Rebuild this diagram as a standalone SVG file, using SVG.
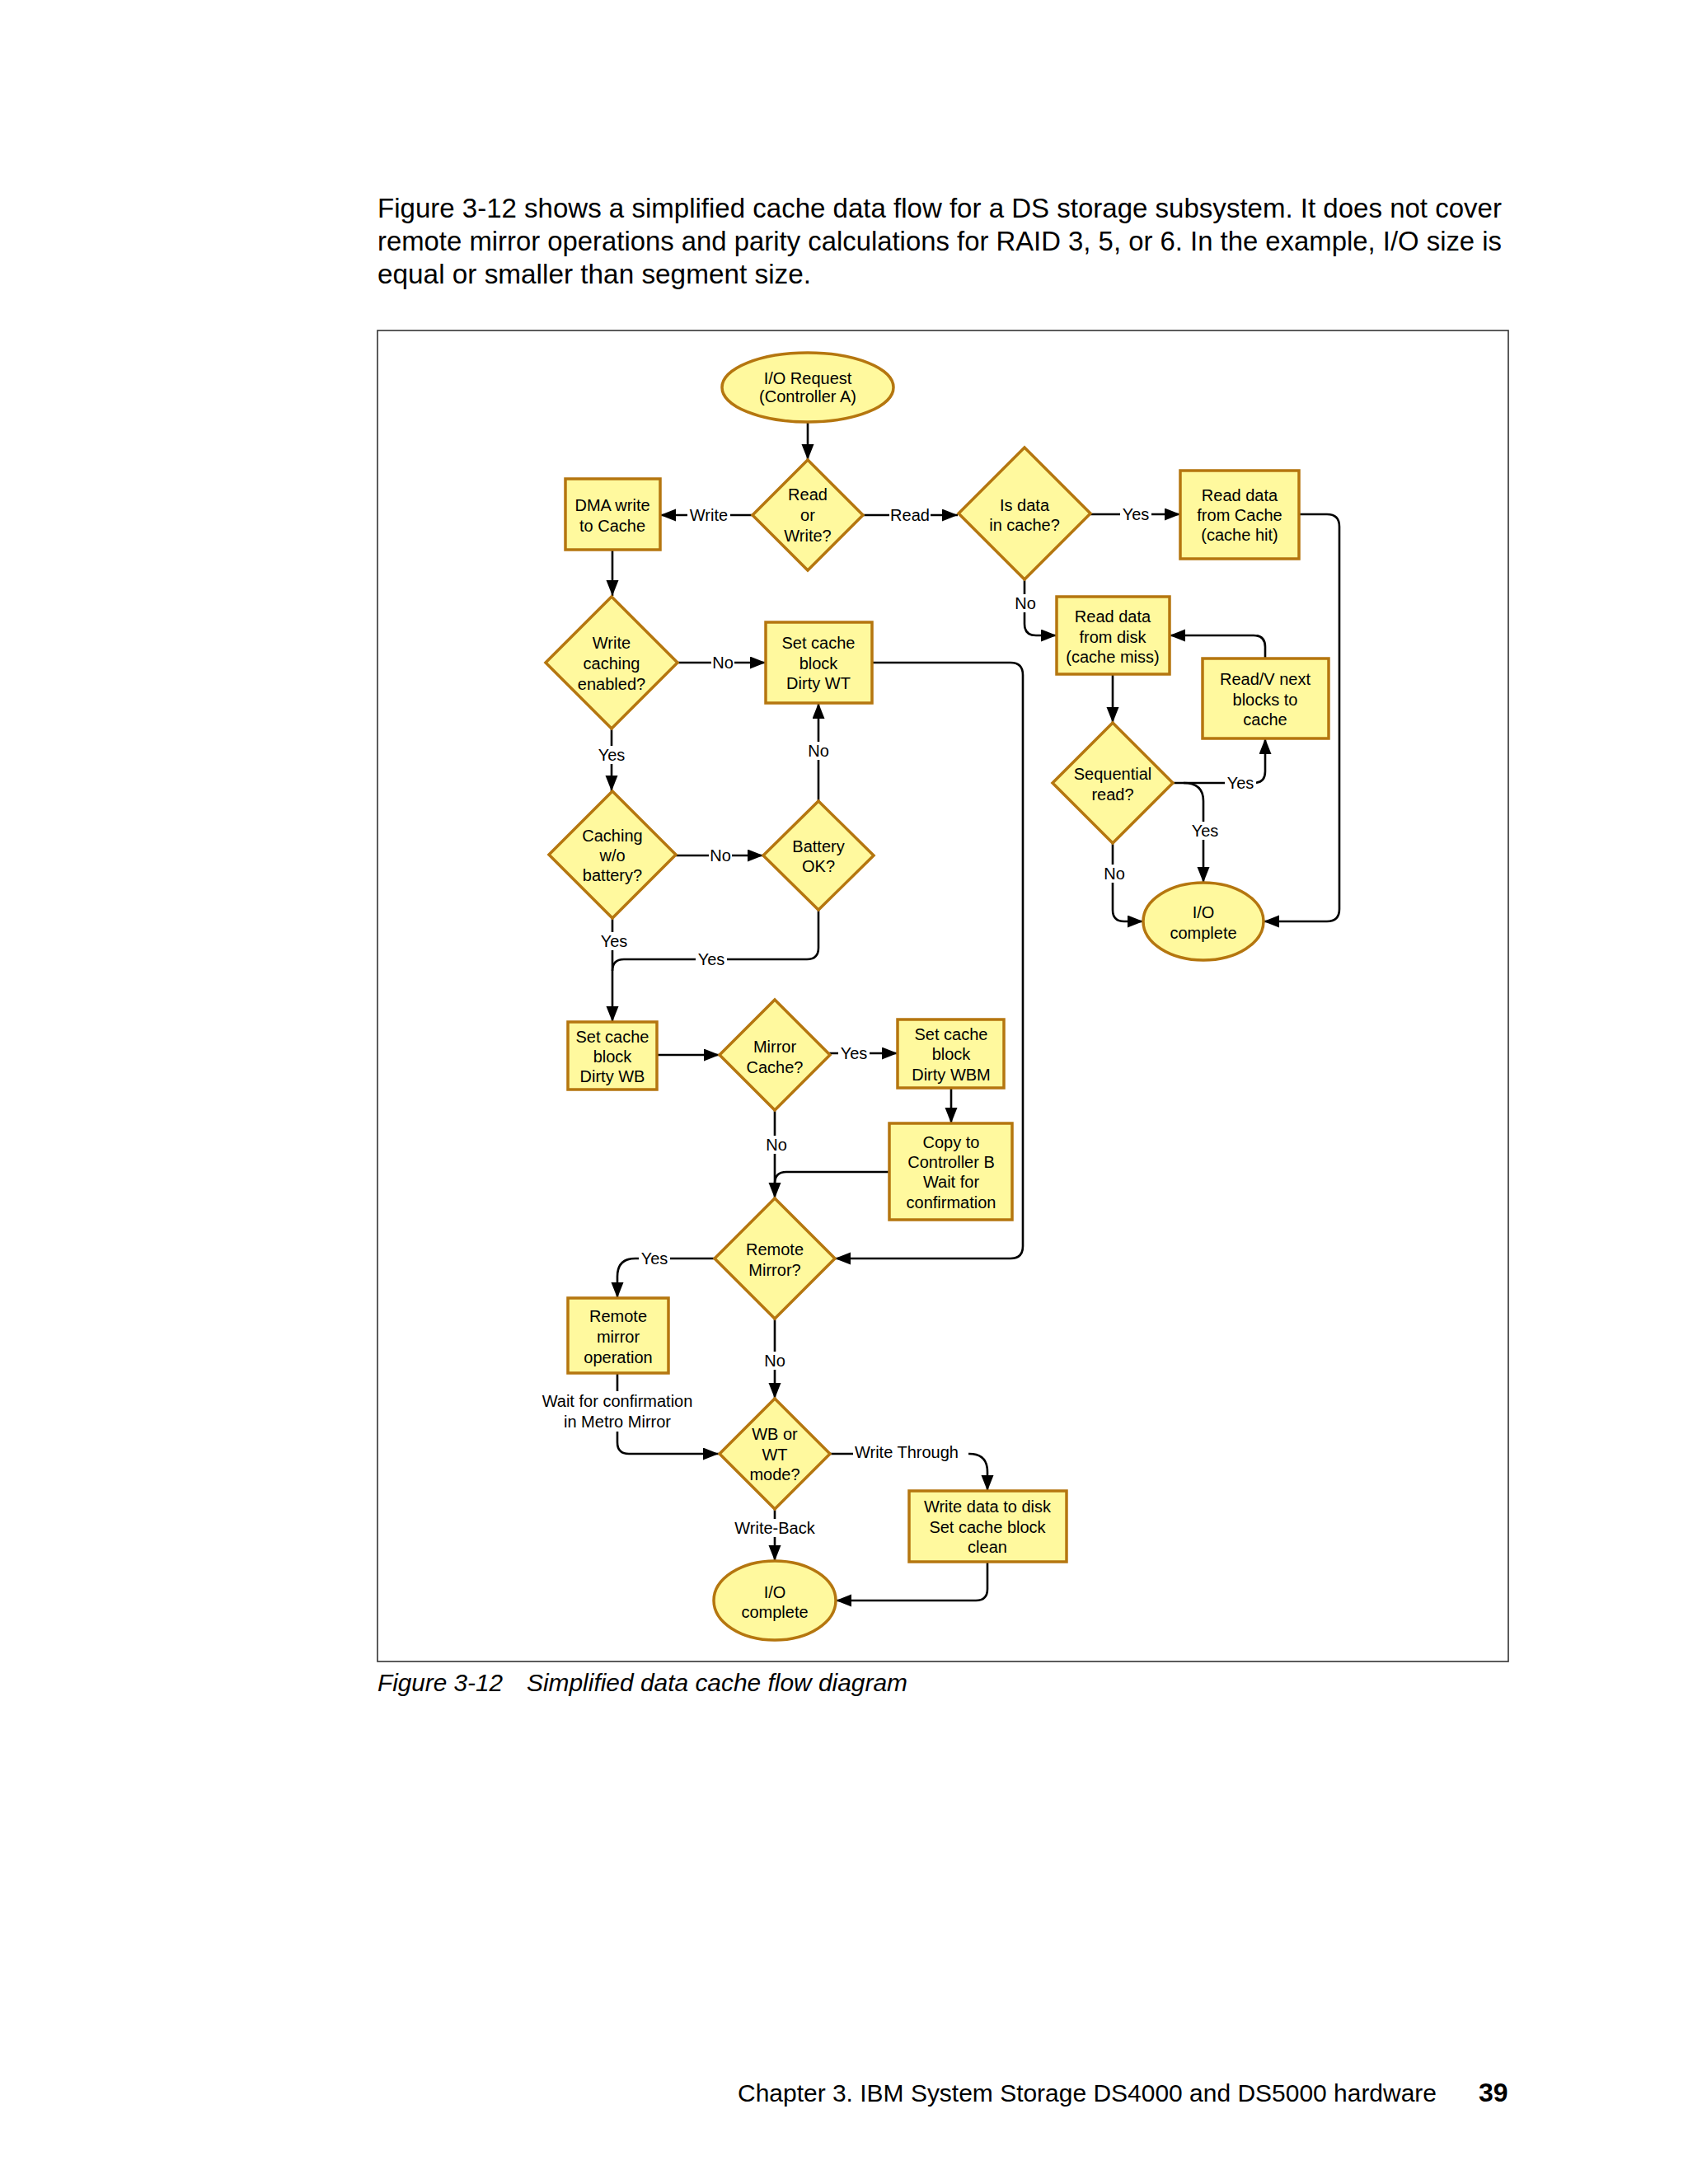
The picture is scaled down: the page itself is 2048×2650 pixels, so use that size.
<svg xmlns="http://www.w3.org/2000/svg" width="2048" height="2650" viewBox="0 0 2048 2650">
<defs>
<marker id="ah" markerUnits="userSpaceOnUse" markerWidth="20" markerHeight="16" refX="19" refY="7.5" orient="auto">
<path d="M0,0 L19,7.5 L0,15 z" fill="#000"/>
</marker>
<style>
.nd{fill:#FFF99E;stroke:#B5760F;stroke-width:3.5;stroke-linejoin:miter}
.nt{font-family:"Liberation Sans",Arial,sans-serif;font-size:20px;fill:#000;text-anchor:middle}
.cn{fill:none;stroke:#000;stroke-width:2.6}
.ar{marker-end:url(#ah)}
.bg{fill:#fff;stroke:none}
.lb{font-family:"Liberation Sans",Arial,sans-serif;font-size:20px;fill:#000;text-anchor:middle}
.pt{font-family:"Liberation Sans",Arial,sans-serif;font-size:33px;fill:#000}
</style>
</defs>
<rect width="2048" height="2650" fill="#fff"/>

<g id="page-text">
<text class="pt" x="458" y="264" textLength="1364" lengthAdjust="spacingAndGlyphs">Figure 3-12 shows a simplified cache data flow for a DS storage subsystem. It does not cover</text>
<text class="pt" x="458" y="304" textLength="1364" lengthAdjust="spacingAndGlyphs">remote mirror operations and parity calculations for RAID 3, 5, or 6. In the example, I/O size is</text>
<text class="pt" x="458" y="344" textLength="526" lengthAdjust="spacingAndGlyphs">equal or smaller than segment size.</text>
<text x="458" y="2052" font-family="Liberation Sans, Arial, sans-serif" font-style="italic" font-size="30" textLength="152" lengthAdjust="spacingAndGlyphs">Figure 3-12</text>
<text x="639" y="2052" font-family="Liberation Sans, Arial, sans-serif" font-style="italic" font-size="30" textLength="462" lengthAdjust="spacingAndGlyphs">Simplified data cache flow diagram</text>
<text x="895" y="2550" font-family="Liberation Sans, Arial, sans-serif" font-size="30" textLength="848" lengthAdjust="spacingAndGlyphs">Chapter 3. IBM System Storage DS4000 and DS5000 hardware</text>
<text x="1794" y="2550" font-family="Liberation Sans, Arial, sans-serif" font-size="32" font-weight="bold">39</text>
</g>

<rect id="frame" x="458" y="401" width="1372" height="1615" fill="none" stroke="#333" stroke-width="1.6"/>

<g id="connectors">
<path class="cn ar" d="M980,513 L980,558"/>
<path class="cn ar" d="M913,625 L801,625"/>
<path class="cn ar" d="M1047,625 L1162,625"/>
<path class="cn ar" d="M1323,624 L1432,624"/>
<path class="cn ar" d="M1243,703 L1243,757 Q1243,771 1257,771 L1282,771"/>
<path class="cn ar" d="M1576,624 L1610,624 Q1625,624 1625,639 L1625,1103 Q1625,1118 1610,1118 L1533,1118"/>
<path class="cn ar" d="M743,667 L743,723"/>
<path class="cn ar" d="M822,804 L929,804"/>
<path class="cn ar" d="M1058,804 L1226,804 Q1241,804 1241,819 L1241,1512 Q1241,1527 1226,1527 L1013,1527"/>
<path class="cn ar" d="M742,884 L742,960"/>
<path class="cn ar" d="M820,1038 L926,1038"/>
<path class="cn ar" d="M993,972 L993,853"/>
<path class="cn ar" d="M743,1114 L743,1240"/>
<path class="cn" d="M993,1104 L993,1150 Q993,1164 979,1164 L757,1164 Q743,1164 743,1178"/>
<path class="cn ar" d="M797,1280 L873,1280"/>
<path class="cn ar" d="M1006,1278 L1089,1278"/>
<path class="cn ar" d="M1154,1320 L1154,1363"/>
<path class="cn" d="M1079,1422 L954,1422 Q940,1422 940,1436"/>
<path class="cn ar" d="M940,1347 L940,1454"/>
<path class="cn ar" d="M868,1527 L771,1527 Q749,1527 749,1549 L749,1575"/>
<path class="cn ar" d="M940,1600 L940,1697"/>
<path class="cn ar" d="M749,1666 L749,1750 Q749,1764 763,1764 L872,1764"/>
<path class="cn ar" d="M1006,1764 L1176,1764 Q1198,1764 1198,1786 L1198,1809"/>
<path class="cn ar" d="M940,1831 L940,1894"/>
<path class="cn ar" d="M1198,1895 L1198,1928 Q1198,1942 1184,1942 L1014,1942"/>
<path class="cn ar" d="M1350,818 L1350,877"/>
<path class="cn ar" d="M1423,950 L1521,950 Q1535,950 1535,936 L1535,896"/>
<path class="cn ar" d="M1436,950 Q1460,950 1460,972 L1460,1071"/>
<path class="cn ar" d="M1535,799 L1535,785 Q1535,771 1521,771 L1419,771"/>
<path class="cn ar" d="M1350,1023 L1350,1104 Q1350,1118 1364,1118 L1387,1118"/>
<rect class="bg" x="834" y="614" width="52" height="22"/>
<rect class="bg" x="1079" y="614" width="50" height="22"/>
<rect class="bg" x="1359" y="613" width="38" height="22"/>
<rect class="bg" x="1230" y="721" width="28" height="22"/>
<rect class="bg" x="863" y="793" width="28" height="22"/>
<rect class="bg" x="723" y="905" width="38" height="22"/>
<rect class="bg" x="860" y="1027" width="28" height="22"/>
<rect class="bg" x="979" y="900" width="28" height="22"/>
<rect class="bg" x="726" y="1131" width="38" height="22"/>
<rect class="bg" x="844" y="1153" width="38" height="22"/>
<rect class="bg" x="1017" y="1267" width="38" height="22"/>
<rect class="bg" x="928" y="1378" width="28" height="22"/>
<rect class="bg" x="775" y="1516" width="38" height="22"/>
<rect class="bg" x="926" y="1640" width="28" height="22"/>
<rect class="bg" x="654" y="1688" width="190" height="49"/>
<rect class="bg" x="1035" y="1751" width="140" height="22"/>
<rect class="bg" x="890" y="1843" width="100" height="22"/>
<rect class="bg" x="1486" y="939" width="38" height="22"/>
<rect class="bg" x="1443" y="997" width="38" height="22"/>
<rect class="bg" x="1338" y="1049" width="28" height="22"/>
<text class="lb" x="860" y="632">Write</text>
<text class="lb" x="1104" y="632">Read</text>
<text class="lb" x="1378" y="631">Yes</text>
<text class="lb" x="1244" y="739">No</text>
<text class="lb" x="877" y="811">No</text>
<text class="lb" x="742" y="923">Yes</text>
<text class="lb" x="874" y="1045">No</text>
<text class="lb" x="993" y="918">No</text>
<text class="lb" x="745" y="1149">Yes</text>
<text class="lb" x="863" y="1171">Yes</text>
<text class="lb" x="1036" y="1285">Yes</text>
<text class="lb" x="942" y="1396">No</text>
<text class="lb" x="794" y="1534">Yes</text>
<text class="lb" x="940" y="1658">No</text>
<text class="lb" x="749" y="1707">Wait for confirmation</text>
<text class="lb" x="749" y="1732">in Metro Mirror</text>
<text class="lb" x="1100" y="1769">Write Through</text>
<text class="lb" x="940" y="1861">Write-Back</text>
<text class="lb" x="1505" y="957">Yes</text>
<text class="lb" x="1462" y="1015">Yes</text>
<text class="lb" x="1352" y="1067">No</text>
</g>

<g id="io-request">
<ellipse class="nd" cx="980" cy="470" rx="104" ry="42"/>
<text class="nt" x="980" y="466">I/O Request</text>
<text class="nt" x="980" y="488">(Controller A)</text>
</g>
<g id="read-or-write">
<path class="nd" d="M980,558 L1047,625 L980,692 L913,625 z"/>
<text class="nt" x="980" y="607">Read</text>
<text class="nt" x="980" y="632">or</text>
<text class="nt" x="980" y="657">Write?</text>
</g>
<g id="dma-write">
<rect class="nd" x="686" y="581" width="115" height="86"/>
<text class="nt" x="743" y="620">DMA write</text>
<text class="nt" x="743" y="645">to Cache</text>
</g>
<g id="is-data-in-cache">
<path class="nd" d="M1243,543 L1323,623 L1243,703 L1163,623 z"/>
<text class="nt" x="1243" y="620">Is data</text>
<text class="nt" x="1243" y="644">in cache?</text>
</g>
<g id="read-from-cache">
<rect class="nd" x="1432" y="571" width="144" height="107"/>
<text class="nt" x="1504" y="608">Read data</text>
<text class="nt" x="1504" y="632">from Cache</text>
<text class="nt" x="1504" y="656">(cache hit)</text>
</g>
<g id="read-from-disk">
<rect class="nd" x="1282" y="724" width="137" height="94"/>
<text class="nt" x="1350" y="755">Read data</text>
<text class="nt" x="1350" y="780">from disk</text>
<text class="nt" x="1350" y="804">(cache miss)</text>
</g>
<g id="read-next-blocks">
<rect class="nd" x="1459" y="799" width="153" height="97"/>
<text class="nt" x="1535" y="831">Read/V next</text>
<text class="nt" x="1535" y="856">blocks to</text>
<text class="nt" x="1535" y="880">cache</text>
</g>
<g id="sequential-read">
<path class="nd" d="M1350,877 L1423,950 L1350,1023 L1277,950 z"/>
<text class="nt" x="1350" y="946">Sequential</text>
<text class="nt" x="1350" y="971">read?</text>
</g>
<g id="io-complete-read">
<ellipse class="nd" cx="1460" cy="1118" rx="73" ry="47"/>
<text class="nt" x="1460" y="1114">I/O</text>
<text class="nt" x="1460" y="1139">complete</text>
</g>
<g id="write-caching-enabled">
<path class="nd" d="M742,724 L822,804 L742,884 L662,804 z"/>
<text class="nt" x="742" y="787">Write</text>
<text class="nt" x="742" y="812">caching</text>
<text class="nt" x="742" y="837">enabled?</text>
</g>
<g id="dirty-wt">
<rect class="nd" x="929" y="755" width="129" height="98"/>
<text class="nt" x="993" y="787">Set cache</text>
<text class="nt" x="993" y="812">block</text>
<text class="nt" x="993" y="836">Dirty WT</text>
</g>
<g id="caching-without-battery">
<path class="nd" d="M743,960 L820,1037 L743,1114 L666,1037 z"/>
<text class="nt" x="743" y="1021">Caching</text>
<text class="nt" x="743" y="1045">w/o</text>
<text class="nt" x="743" y="1069">battery?</text>
</g>
<g id="battery-ok">
<path class="nd" d="M993,972 L1060,1038 L993,1104 L926,1038 z"/>
<text class="nt" x="993" y="1034">Battery</text>
<text class="nt" x="993" y="1058">OK?</text>
</g>
<g id="dirty-wb">
<rect class="nd" x="689" y="1240" width="108" height="82"/>
<text class="nt" x="743" y="1265">Set cache</text>
<text class="nt" x="743" y="1289">block</text>
<text class="nt" x="743" y="1313">Dirty WB</text>
</g>
<g id="mirror-cache">
<path class="nd" d="M940,1213 L1007,1280 L940,1347 L873,1280 z"/>
<text class="nt" x="940" y="1277">Mirror</text>
<text class="nt" x="940" y="1302">Cache?</text>
</g>
<g id="dirty-wbm">
<rect class="nd" x="1089" y="1237" width="129" height="83"/>
<text class="nt" x="1154" y="1262">Set cache</text>
<text class="nt" x="1154" y="1286">block</text>
<text class="nt" x="1154" y="1311">Dirty WBM</text>
</g>
<g id="copy-to-controller-b">
<rect class="nd" x="1079" y="1363" width="149" height="117"/>
<text class="nt" x="1154" y="1393">Copy to</text>
<text class="nt" x="1154" y="1417">Controller B</text>
<text class="nt" x="1154" y="1441">Wait for</text>
<text class="nt" x="1154" y="1466">confirmation</text>
</g>
<g id="remote-mirror">
<path class="nd" d="M940,1454 L1013,1527 L940,1600 L867,1527 z"/>
<text class="nt" x="940" y="1523">Remote</text>
<text class="nt" x="940" y="1548">Mirror?</text>
</g>
<g id="remote-mirror-operation">
<rect class="nd" x="689" y="1575" width="122" height="91"/>
<text class="nt" x="750" y="1604">Remote</text>
<text class="nt" x="750" y="1629">mirror</text>
<text class="nt" x="750" y="1654">operation</text>
</g>
<g id="wb-or-wt">
<path class="nd" d="M940,1697 L1007,1764 L940,1831 L873,1764 z"/>
<text class="nt" x="940" y="1747">WB or</text>
<text class="nt" x="940" y="1772">WT</text>
<text class="nt" x="940" y="1796">mode?</text>
</g>
<g id="write-data-to-disk">
<rect class="nd" x="1103" y="1809" width="191" height="86"/>
<text class="nt" x="1198" y="1835">Write data to disk</text>
<text class="nt" x="1198" y="1860">Set cache block</text>
<text class="nt" x="1198" y="1884">clean</text>
</g>
<g id="io-complete-write">
<ellipse class="nd" cx="940" cy="1942" rx="74" ry="48"/>
<text class="nt" x="940" y="1939">I/O</text>
<text class="nt" x="940" y="1963">complete</text>
</g>
</svg>
